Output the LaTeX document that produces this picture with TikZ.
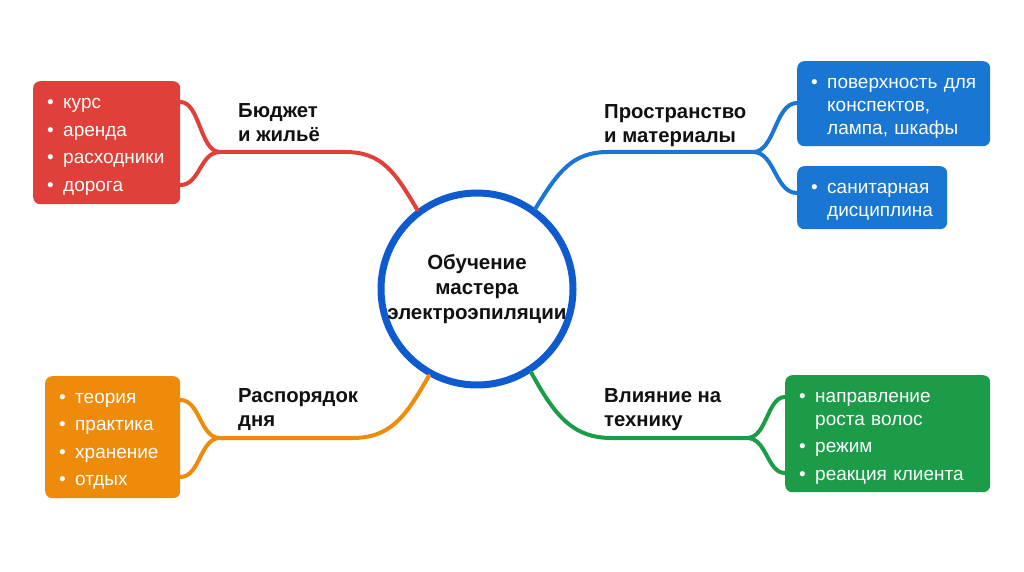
\documentclass[tikz,border=0pt]{standalone}
\usepackage{fontspec}
\setmainfont{Liberation Sans}
\usetikzlibrary{calc}
\definecolor{cred}{HTML}{DF4039}
\definecolor{cblue}{HTML}{1976D2}
\definecolor{chub}{HTML}{0E5BCF}
\definecolor{corange}{HTML}{EF8B0B}
\definecolor{cgreen}{HTML}{1C9C48}
\definecolor{ctext}{HTML}{111111}
\newcommand\bu{\makebox[16pt][l]{•}}
\newcommand\ind{\hspace*{16pt}}
\newcommand\ft{\rule{0pt}{20pt}}
\newcommand\fb{\rule[-5pt]{0pt}{0pt}}
\tikzset{
  box/.style={rounded corners=7pt, text=white, inner xsep=14pt, inner ysep=0pt,
    align=left, anchor=north west, font=\fontsize{19}{23}\selectfont},
  lbl/.style={anchor=north west, align=left, inner sep=0pt, text=ctext,
    font=\bfseries\fontsize{20.3}{24.5}\selectfont},
  conn/.style={line width=4pt, line cap=round},
}
\begin{document}
\begin{tikzpicture}[x=1pt,y=-1pt]
\useasboundingbox[fill=white] (0,0) rectangle (1024,572);

% boxes
\node[box, fill=cred, minimum width=147pt, minimum height=123pt, text width=119pt,
  font=\fontsize{19}{27.5}\selectfont] (rb) at (33,81)
  {\ft\bu курс\\ \bu аренда\\ \bu расходники\\ \bu дорога\fb};
\node[box, fill=corange, minimum width=135pt, minimum height=122pt, text width=107pt,
  font=\fontsize{19}{27.5}\selectfont] (ob) at (45,376)
  {\ft\bu теория\\ \bu практика\\ \bu хранение\\ \bu отдых\fb};
\node[box, fill=cblue, minimum width=193pt, minimum height=85pt, text width=165pt] (bb1) at (797,61)
  {\ft\bu\mbox{поверхность для}\\ \ind конспектов,\\ \ind лампа, шкафы\fb};
\node[box, fill=cblue, minimum width=150pt, minimum height=63pt, text width=122pt] (bb2) at (797,166)
  {\ft\bu санитарная\\ \ind дисциплина\fb};
\node[box, fill=cgreen, minimum width=205pt, minimum height=117pt, text width=177pt] (gb) at (785,375)
  {\ft\bu направление\\ \ind роста волос\\[4.5pt] \bu режим\\[4.5pt] \bu реакция клиента\fb};

% labels
\node[lbl] (rl) at (238,103) {Бюджет\\и жильё};
\node[lbl] (bl) at (604,104) {Пространство\\и материалы};
\node[lbl] (ol) at (238,388) {Распорядок\\дня};
\node[lbl] (gl) at (604,388) {Влияние на\\технику};

% hub
\node[circle, draw=chub, line width=7pt, fill=white, minimum size=192pt, inner sep=0pt,
  align=center, text=ctext, font=\bfseries\fontsize{20.5}{25}\selectfont] (hub) at (477,289)
  {Обучение\\мастера\\электроэпиляции};

% junctions
\coordinate (rj) at (220,152);
\coordinate (bj) at (753,152);
\coordinate (oj) at (220,438);
\coordinate (gj) at (747,438);

% red
\draw[conn, cred] (hub.127) .. controls (395,172) and (382,152) .. (345,152) -- (rj);
\draw[conn, cred] (rj) .. controls (200,152) and (200,102) .. (rb.east |- 0,102);
\draw[conn, cred] (rj) .. controls (200,152) and (200,185) .. (rb.east |- 0,185);
% blue
\draw[conn, cblue] (hub.54) .. controls (558,172) and (572,152) .. (608,152) -- (bj);
\draw[conn, cblue] (bj) .. controls (775,152) and (775,103) .. (bb1.west |- 0,103);
\draw[conn, cblue] (bj) .. controls (775,152) and (775,193) .. (bb2.west |- 0,193);
% orange
\draw[conn, corange] (hub.-119) .. controls (405,418) and (390,438) .. (352,438) -- (oj);
\draw[conn, corange] (oj) .. controls (200,438) and (200,400) .. (ob.east |- 0,400);
\draw[conn, corange] (oj) .. controls (200,438) and (200,477) .. (ob.east |- 0,477);
% green
\draw[conn, cgreen] (hub.-57) .. controls (556,418) and (574,438) .. (612,438) -- (gj);
\draw[conn, cgreen] (gj) .. controls (767,438) and (767,397) .. (gb.west |- 0,397);
\draw[conn, cgreen] (gj) .. controls (767,438) and (767,473) .. (gb.west |- 0,473);
\end{tikzpicture}
\end{document}
